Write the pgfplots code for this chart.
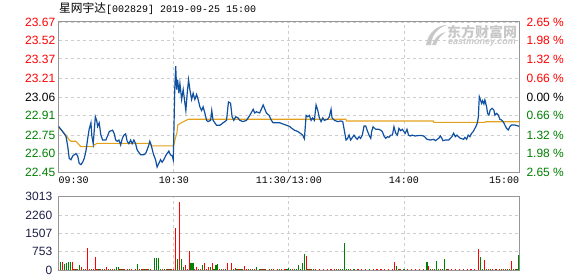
\documentclass[border=0pt]{standalone}
\usepackage{pgfplots}
\pgfplotsset{compat=1.18}
\usepackage{fontspec}
\setmainfont{Liberation Sans}
\newfontfamily\cjk{Noto Sans CJK SC}
\newfontfamily\mono{Liberation Mono}
\definecolor{pblue}{RGB}{16,80,160}
\definecolor{avgc}{RGB}{226,162,30}
\definecolor{upred}{RGB}{255,0,0}
\definecolor{dngreen}{RGB}{0,128,0}
\definecolor{framec}{RGB}{150,150,150}
\definecolor{gridc}{RGB}{205,205,205}
\definecolor{volc}{RGB}{30,30,70}
\definecolor{wm}{RGB}{200,200,200}
\begin{document}
\begin{tikzpicture}[x=1bp,y=1bp]
\useasboundingbox (0,0) rectangle (578,276);
\node[anchor=base west, inner sep=0pt] at (59,263.7) {{\cjk\fontsize{11.7bp}{12bp}\selectfont 星网宇达}{\mono\fontsize{10bp}{12bp}\selectfont [002829] 2019-09-25 15:00}};
% watermark
\fill[wm] (426,231) .. controls (428,244) and (438,251) .. (447,251) .. controls (438,248) and (432,242) .. (431,231) -- cycle;
\fill[wm] (432,231) .. controls (434,238) and (440,243) .. (446,244) .. controls (441,241) and (437,236) .. (436,231) -- cycle;
\node[anchor=west, inner sep=0pt, text=wm] at (447,244.3) {\cjk\bfseries\fontsize{14bp}{14bp}\selectfont 东方财富网};
\node[anchor=west, inner sep=0pt, text=wm] at (448,233.3) {\bfseries\itshape\fontsize{9bp}{9bp}\selectfont eastmoney.com};
\begin{axis}[at={(58.7bp,104bp)}, anchor=south west, scale only axis,
  width=460.3bp, height=150bp,
  xmin=0, xmax=240, ymin=22.45, ymax=23.67,
  xtick={0,60,120,180,240},
  ytick={22.45,22.60,22.75,22.91,23.06,23.21,23.37,23.52,23.67},
  yticklabels={\textcolor{dngreen}{22.45},\textcolor{dngreen}{22.60},\textcolor{dngreen}{22.75},\textcolor{dngreen}{22.91},\textcolor{black}{23.06},\textcolor{upred}{23.21},\textcolor{upred}{23.37},\textcolor{upred}{23.52},\textcolor{upred}{23.67}},
  xticklabels={\makebox[0pt][l]{09:30},10:30,11:30/13:00,14:00,\makebox[0pt][r]{15:00}},
  grid=major,
  major grid style={gridc, dash pattern=on 3bp off 3bp, line width=0.8bp},
  axis line style={framec, line width=1bp},
  major tick length=0pt,
  yticklabel style={font=\fontsize{12bp}{14bp}\selectfont},
  xticklabel style={font=\mono\fontsize{10bp}{12bp}\selectfont, text=black, yshift=-1bp},
  clip=false,
]
\addplot[avgc, line width=1.1bp] coordinates {
(0,22.81)(2.0,22.78)(3.8,22.75)(5.5,22.71)(6.4,22.70)(9.0,22.70)(10.7,22.67)(11.6,22.656)(17.7,22.656)(18.6,22.67)(19.4,22.678)(20,22.683)(47.5,22.683)(48.2,22.662)(60,22.662)(60.8,22.724)(61.6,22.765)(62.1,22.832)(63.3,22.846)(65.1,22.859)(66.8,22.873)(67.7,22.879)(149.8,22.879)(150,22.865)(195.3,22.865)(195.6,22.854)(222.2,22.854)(222.5,22.859)(240,22.859)
};
\addplot[pblue, line width=1.2bp] coordinates {
(0,22.82)(2.0,22.78)(3.8,22.74)(4.7,22.66)(5.5,22.56)(6.4,22.55)(7.3,22.58)(8.1,22.59)(9.0,22.60)(9.9,22.58)(10.7,22.52)(11.6,22.51)(12.5,22.53)(13.3,22.56)(14.2,22.62)(15.1,22.72)(15.9,22.80)(16.8,22.85)(17.3,22.74)(18.0,22.68)(19.1,22.90)(19.8,22.87)(20.3,22.82)(21.1,22.85)(22.0,22.75)(22.9,22.71)(24.6,22.71)(26.4,22.78)(28.1,22.79)(29.0,22.76)(29.7,22.71)(30.5,22.70)(31.4,22.71)(32.3,22.67)(33.1,22.72)(34.0,22.75)(34.9,22.76)(35.7,22.70)(36.6,22.68)(37.5,22.71)(38.3,22.68)(39.2,22.71)(40.1,22.68)(40.9,22.63)(41.8,22.61)(42.7,22.59)(44.4,22.59)(45.3,22.60)(46.1,22.63)(47.0,22.67)(47.5,22.70)(48.2,22.67)(49.3,22.60)(50.5,22.55)(51.3,22.49)(52.2,22.52)(53.1,22.55)(53.9,22.53)(54.8,22.55)(55.7,22.58)(56.5,22.60)(57.4,22.62)(58.3,22.59)(59.2,22.58)(59.7,22.55)
(60.0,22.74)(60.5,23.12)(61.0,23.31)(61.5,23.12)(62.0,23.20)(62.7,23.09)(63.2,23.17)(64.1,23.04)(64.9,23.12)(65.8,23.01)(66.3,22.95)(67.0,23.09)(67.7,23.20)(68.4,23.12)(69.3,23.04)(70.1,23.09)(71.0,23.04)(71.9,23.08)(72.7,23.04)(73.6,22.98)(74.5,22.95)(75.3,22.98)(76.2,22.93)(77.1,22.87)(77.9,22.86)(79.2,22.87)(79.8,22.95)(80.5,22.87)(82.3,22.83)(84.0,22.83)(85.7,22.85)(87.5,22.87)(88.5,23.02)(89.6,23.01)(90.4,22.90)(91.3,22.87)(92.3,22.90)(93.5,22.89)(94.4,22.87)(96.1,22.86)(97.9,22.87)(99.6,22.91)(101.4,22.96)(102.2,22.93)(103.1,22.94)(104.8,22.93)(106.6,22.995)(108.3,22.93)(109.7,22.91)(110.9,22.87)(111.8,22.85)(113.5,22.85)(115.3,22.85)(117.0,22.84)(118.8,22.83)(120.5,22.82)
(121.1,22.81)(122.9,22.79)(124.6,22.78)(126.4,22.76)(127.2,22.75)(128.1,22.72)(129.0,22.91)(129.8,22.90)(130.7,22.91)(131.6,22.87)(132.4,22.89)(133.3,22.87)(134.2,22.995)(135.1,22.95)(135.9,22.89)(136.8,22.86)(137.7,22.89)(138.5,22.87)(140.3,22.88)(141.1,22.90)(142.0,22.96)(142.5,22.89)(143.8,22.87)(145.5,22.86)(147.2,22.865)(148.1,22.86)(148.9,22.79)(149.8,22.71)
(150.5,22.72)(151.4,22.75)(152.2,22.71)(153.1,22.73)(154.0,22.75)(154.8,22.73)(155.7,22.716)(156.6,22.737)(157.4,22.724)(158.3,22.75)(159.2,22.824)(160.1,22.824)(160.9,22.786)(161.8,22.75)(162.7,22.724)(163.2,22.78)(163.9,22.818)(165.3,22.797)(167.0,22.797)(167.9,22.79)(168.7,22.78)(169.6,22.743)(170.5,22.724)(171.4,22.737)(172.2,22.732)(173.1,22.75)(174.0,22.75)(174.8,22.818)(175.7,22.765)(176.6,22.75)(177.4,22.805)(178.3,22.786)(179.2,22.797)(180.0,22.778)
(180.7,22.765)(181.6,22.797)(182.4,22.75)(183.3,22.743)(184.2,22.75)(185.9,22.743)(188.5,22.748)(190.3,22.743)(191.1,22.732)(192.0,22.716)(193.8,22.71)(195.5,22.716)(196.4,22.705)(198.1,22.724)(199.0,22.743)(199.8,22.724)(200.3,22.705)(201.6,22.71)(203.3,22.71)(204.2,22.724)(205.0,22.737)(205.9,22.765)(206.8,22.737)(207.6,22.75)(208.5,22.737)(209.4,22.724)(211.1,22.716)
(211.8,22.732)(212.7,22.716)(213.5,22.75)(214.4,22.737)(215.3,22.765)(216.1,22.778)(217.0,22.805)(217.9,22.832)(218.4,22.859)(218.8,22.90)(219.3,23.063)(219.8,23.041)(220.5,23.009)(221.0,23.03)(221.7,23.003)(222.2,23.036)(223.1,22.981)(223.6,22.927)(224.3,22.913)(225.0,22.954)(226.0,22.968)(226.9,22.954)(227.4,22.913)(228.3,22.927)(229.2,22.913)(230.0,22.879)(230.9,22.873)(231.8,22.859)(232.6,22.832)(233.5,22.805)(234.4,22.792)(235.2,22.818)(236.1,22.832)(237.8,22.832)(239.6,22.824)(240,22.82)
};
\begin{scope}[font=\fontsize{12bp}{14bp}\selectfont]
\node[anchor=west, text=upred] at (axis cs:240,23.67) [xshift=4bp] {2.65 \%};
\node[anchor=west, text=upred] at (axis cs:240,23.52) [xshift=4bp] {1.98 \%};
\node[anchor=west, text=upred] at (axis cs:240,23.37) [xshift=4bp] {1.32 \%};
\node[anchor=west, text=upred] at (axis cs:240,23.21) [xshift=4bp] {0.66 \%};
\node[anchor=west, text=black] at (axis cs:240,23.06) [xshift=4bp] {0.00 \%};
\node[anchor=west, text=dngreen] at (axis cs:240,22.91) [xshift=4bp] {0.66 \%};
\node[anchor=west, text=dngreen] at (axis cs:240,22.75) [xshift=4bp] {1.32 \%};
\node[anchor=west, text=dngreen] at (axis cs:240,22.60) [xshift=4bp] {1.98 \%};
\node[anchor=west, text=dngreen] at (axis cs:240,22.45) [xshift=4bp] {2.65 \%};
\end{scope}
\end{axis}
\begin{axis}[at={(58.7bp,6bp)}, anchor=south west, scale only axis,
  width=460.3bp, height=73.3bp,
  xmin=0, xmax=240, ymin=0, ymax=3013,
  xtick={0,60,120,180,240}, xticklabels={},
  ytick={0,753,1507,2260,3013},
  yticklabels={0,753,1507,2260,3013},
  grid=major,
  major grid style={gridc, dash pattern=on 3bp off 3bp, line width=0.8bp},
  axis line style={framec, line width=1bp},
  major tick length=0pt,
  yticklabel style={font=\fontsize{12bp}{14bp}\selectfont, text=volc, xshift=-3bp},
]
\addplot[ycomb, upred, line width=1.2bp] coordinates {
(0,40)(8,40)(10,40)(14,40)(16,40)(18,40)(20,40)(22,40)(24,40)(26,40)(28,40)(32,40)(34,40)(36,40)(38,40)(40,40)(42,40)(44,40)(46,40)(48,40)(54,40)(56,40)(58,40)(60,40)(67,40)(71,40)(74,40)(77,40)(84,40)(86,40)(94,40)(96,40)(98,40)(100,40)(102,40)(106,40)(108,40)(110,40)(112,40)(114,40)(116,40)(118,40)(122,40)(131,40)(134,40)(136,40)(138,40)(140,40)(142,40)(144,40)(146,40)(152,40)(156,40)(158,40)(160,40)(164,40)(166,40)(168,40)(170,40)(172,40)(174,40)(178,40)(182,40)(184,40)(186,40)(188,40)(190,40)(195,40)(199,40)(203,40)(205,40)(207,40)(209,40)(211,40)(213,40)(215,40)(217,40)(224,40)(226,40)(228,40)(230,40)(232,40)(234,40)(238,40)
};
\addplot[ycomb, dngreen, line width=1.2bp] coordinates {
(9,40)(13,40)(17,40)(21,40)(23,40)(27,40)(29,40)(33,40)(37,40)(43,40)(45,40)(47,40)(53,40)(55,40)(57,40)(59,40)(73,40)(81,40)(85,40)(87,40)(91,40)(93,40)(95,40)(99,40)(101,40)(105,40)(107,40)(111,40)(115,40)(119,40)(121,40)(123,40)(124,40)(126,40)(130,40)(132,40)(133,40)(145,40)(147,40)(148,40)(150,40)(151,40)(154,40)(162,40)(177,40)(180,40)(194,40)(196,40)(198,40)(200,40)(202,40)(221,40)(223,40)(225,40)(231,40)(233,40)(235,40)(237,40)(239,40)
};
\addplot[ycomb, upred, line width=1.2bp] coordinates {
(2,315)(7,342)(12,140)(15,918)(19,548)(25,140)(61,1740)(63,2808)(66,205)(68,795)(72,140)(76,275)(78,140)(80,300)(88,300)(90,300)(92,95)(97,165)(129,575)(175,330)(193,165)(219,863)(222,411)(236,370)
};
\addplot[ycomb, dngreen, line width=1.2bp] coordinates {
(1,342)(3,247)(4,301)(5,342)(6,342)(11,205)(30,140)(31,140)(41,247)(50,507)(51,480)(52,480)(62,466)(64,466)(65,140)(69,300)(70,300)(75,205)(79,140)(82,190)(83,247)(103,125)(120,80)(125,205)(127,300)(128,658)(149,1110)(176,165)(192,330)(197,370)(201,452)(220,534)(240,620)
};
\end{axis}
\end{tikzpicture}
\end{document}
